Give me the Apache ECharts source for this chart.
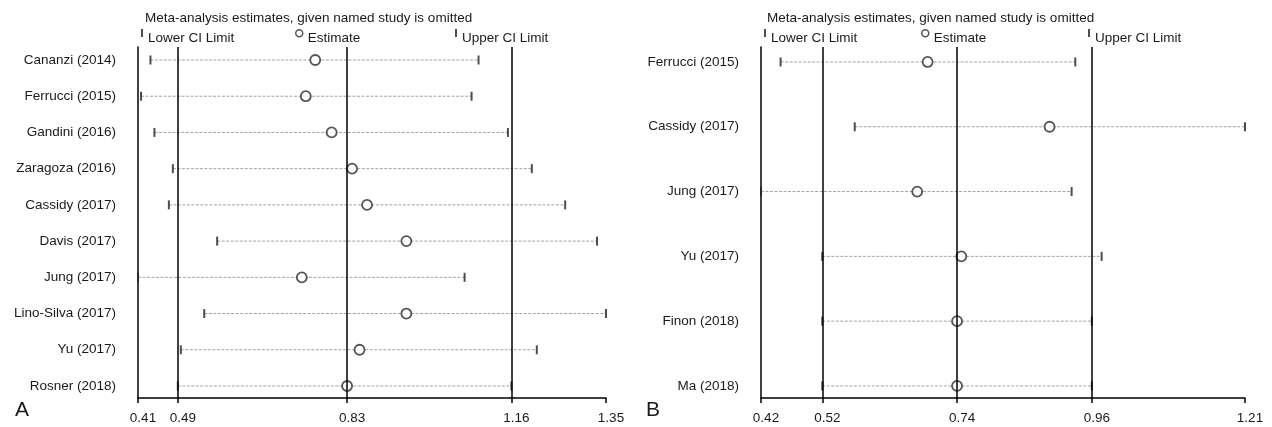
<!DOCTYPE html>
<html>
<head>
<meta charset="utf-8">
<script src="https://cdn.jsdelivr.net/npm/echarts@6/dist/echarts.min.js"></script>
<style>
html,body{margin:0;padding:0;background:#fff;}
#chart{width:1272px;height:427px;}
</style>
</head>
<body>
<div id="chart"></div>
<script>
// ---- Panel A data ----
const studiesA = ['Cananzi (2014)','Ferrucci (2015)','Gandini (2016)','Zaragoza (2016)','Cassidy (2017)','Davis (2017)','Jung (2017)','Lino-Silva (2017)','Yu (2017)','Rosner (2018)'];
const estA  = [0.766,0.747,0.799,0.840,0.870,0.949,0.739,0.949,0.855,0.830];
const lowA  = [0.435,0.416,0.443,0.480,0.472,0.569,0.410,0.543,0.496,0.490];
const highA = [1.094,1.080,1.153,1.201,1.268,1.332,1.066,1.350,1.211,1.160];
const ticksA = [0.41,0.49,0.83,1.16,1.35];
const overallA = [0.49,0.83,1.16];

// ---- Panel B data ----
const studiesB = ['Ferrucci (2015)','Cassidy (2017)','Jung (2017)','Yu (2017)','Finon (2018)','Ma (2018)'];
const estB  = [0.692,0.891,0.675,0.747,0.740,0.740];
const lowB  = [0.452,0.573,0.420,0.520,0.520,0.520];
const highB = [0.933,1.210,0.927,0.976,0.960,0.960];
const ticksB = [0.42,0.52,0.74,0.96,1.21];
const overallB = [0.52,0.74,0.96];

const titleText = 'Meta-analysis estimates, given named study is omitted';
const FONT = "'Liberation Sans', Arial, sans-serif";
const TXT = '#1a1a1a';
const FS = 13.5;

// legend icons: visible mark in the upper part, an invisible anchor point below
const BAR_ICON = 'path://M0,0 L2,0 L2,8 L0,8 Z M0,18 L2,18 L2,18.01 L0,18.01 Z';
const CIRCLE_ICON = 'path://M7,4 A3.5,3.5 0 1 1 0,4 A3.5,3.5 0 1 1 7,4 Z M3.5,18 L3.5,18.01';

function rows(n){ const r=[]; for(let i=1;i<=n;i++) r.push(i); return r; }

function xAxisFor(grid, ticks){
  return {
    type:'value', gridIndex:grid, min:ticks[0], max:ticks[ticks.length-1],
    axisLine:{show:true, lineStyle:{color:'#000', width:1.5}},
    axisTick:{show:true, customValues:ticks, length:5, lineStyle:{color:'#000', width:1.5}},
    axisLabel:{customValues:ticks, margin:13, color:TXT, fontSize:FS, fontFamily:FONT,
      padding:[0,0,0,10], formatter:v=>v.toFixed(2)},
    splitLine:{show:false}
  };
}
function yAxisFor(grid, names, min, max){
  return {
    type:'value', gridIndex:grid, inverse:true, min:min, max:max,
    axisLine:{show:true, lineStyle:{color:'#000', width:1.5}},
    axisTick:{show:false},
    axisLabel:{customValues:rows(names.length), margin:22, color:TXT, fontSize:FS, fontFamily:FONT,
      formatter:v=>names[Math.round(v)-1] || ''},
    splitLine:{show:false}
  };
}

function panelSeries(idx, low, est, high, overall){
  const n = est.length;
  const ciData = [], lowData = [], highData = [], estData = [];
  for(let i=0;i<n;i++){
    ciData.push([low[i], high[i], i+1]);
    lowData.push([low[i], i+1]);
    highData.push([high[i], i+1]);
    estData.push([est[i], i+1]);
  }
  return [
    {
      type:'custom', name:'CI', xAxisIndex:idx, yAxisIndex:idx, z:1, silent:true,
      data:ciData, encode:{x:[0,1], y:2},
      renderItem:(params, api)=>{
        const p1 = api.coord([api.value(0), api.value(2)]);
        const p2 = api.coord([api.value(1), api.value(2)]);
        return {type:'line', shape:{x1:p1[0], y1:p1[1], x2:p2[0], y2:p2[1]},
          style:{stroke:'#a3a3a3', lineWidth:1, lineDash:[3,1.5]}};
      }
    },
    {
      type:'scatter', name:'Overall', xAxisIndex:idx, yAxisIndex:idx, z:2, silent:true,
      data:[], symbolSize:0,
      markLine:{silent:true, symbol:'none', label:{show:false},
        lineStyle:{color:'#000', width:1.5, type:'solid'},
        data:overall.map(v=>({xAxis:v}))}
    },
    {
      type:'scatter', name:'Lower CI Limit', xAxisIndex:idx, yAxisIndex:idx, z:3, silent:true,
      data:lowData, symbol:'rect', symbolSize:[2,9], itemStyle:{color:'#222'}
    },
    {
      type:'scatter', name:'Upper CI Limit', xAxisIndex:idx, yAxisIndex:idx, z:3, silent:true,
      data:highData, symbol:'rect', symbolSize:[2,9], itemStyle:{color:'#222'}
    },
    {
      type:'scatter', name:'Estimate', xAxisIndex:idx, yAxisIndex:idx, z:4, silent:true,
      data:estData, symbol:'circle', symbolSize:10,
      itemStyle:{color:'#fff', borderColor:'#2a2a2a', borderWidth:1.8}
    }
  ];
}

function legendsAt(lowLeft, estLeft, upLeft){
  const base = {top:29, padding:0, selectedMode:false,
    textStyle:{color:TXT, fontSize:FS, fontFamily:FONT}};
  return [
    Object.assign({}, base, {left:lowLeft, data:['Lower CI Limit'], icon:BAR_ICON, itemWidth:2, itemHeight:18,
      itemStyle:{color:'#222', borderWidth:0}}),
    Object.assign({}, base, {left:estLeft, data:['Estimate'], icon:CIRCLE_ICON, itemWidth:7, itemHeight:18,
      itemStyle:{color:'#fff', borderColor:'#2a2a2a', borderWidth:1.5}}),
    Object.assign({}, base, {left:upLeft, data:['Upper CI Limit'], icon:BAR_ICON, itemWidth:2, itemHeight:18,
      itemStyle:{color:'#222', borderWidth:0}})
  ];
}

const chart = echarts.init(document.getElementById('chart'), null, {renderer:'canvas'});
chart.setOption({
  backgroundColor:'#fff',
  animation:false,
  textStyle:{fontFamily:FONT},
  title:[
    {text:titleText, left:145, top:11, padding:0, textStyle:{fontSize:FS, fontWeight:'normal', color:TXT, fontFamily:FONT}},
    {text:titleText, left:767, top:11, padding:0, textStyle:{fontSize:FS, fontWeight:'normal', color:TXT, fontFamily:FONT}},
    {text:'A', left:15, top:400, padding:0, textStyle:{fontSize:21, fontWeight:'normal', color:TXT, fontFamily:FONT}},
    {text:'B', left:646, top:400, padding:0, textStyle:{fontSize:21, fontWeight:'normal', color:TXT, fontFamily:FONT}}
  ],
  legend: legendsAt(141, 295, 455).concat(legendsAt(764, 921, 1088)),
  grid:[
    {left:138, top:47, width:468, height:351, containLabel:false},
    {left:761, top:47, width:484, height:351, containLabel:false}
  ],
  xAxis:[xAxisFor(0, ticksA), xAxisFor(1, ticksB)],
  yAxis:[yAxisFor(0, studiesA, 0.641, 10.332), yAxisFor(1, studiesB, 0.769, 6.186)],
  series: panelSeries(0, lowA, estA, highA, overallA).concat(panelSeries(1, lowB, estB, highB, overallB))
});
</script>
</body>
</html>
